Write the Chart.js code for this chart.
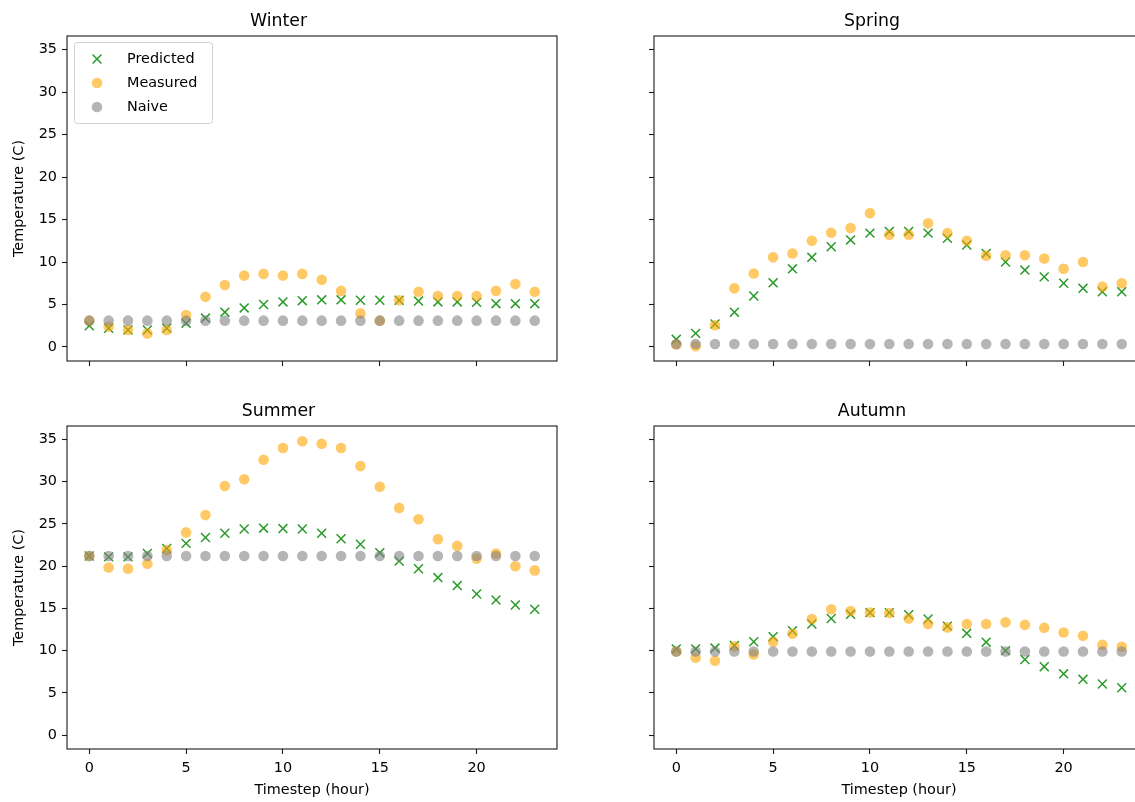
<!DOCTYPE html>
<html>
<head>
<meta charset="utf-8">
<script src="https://cdn.jsdelivr.net/npm/chart.js@4.4.1/dist/chart.umd.min.js"></script>
<style>
html, body { margin:0; padding:0; overflow:hidden; background:#fff; width:1135px; height:802px; }
canvas { position:absolute; }
</style>
</head>
<body>
<canvas id="winter" width="567" height="380" style="left:0px;top:0px"></canvas>
<canvas id="spring" width="554" height="380" style="left:600px;top:0px"></canvas>
<canvas id="summer" width="567" height="412" style="left:0px;top:390px"></canvas>
<canvas id="autumn" width="554" height="412" style="left:600px;top:390px"></canvas>
<script>
// ---------- data ----------
const hours = [0,1,2,3,4,5,6,7,8,9,10,11,12,13,14,15,16,17,18,19,20,21,22,23];
const xTickValues = [0,5,10,15,20];
const yTickValues = [0,5,10,15,20,25,30,35];
const seriesLabels = ['Predicted','Measured','Naive'];

const winterPredicted = [2.5,2.2,2.0,2.0,2.2,2.8,3.4,4.1,4.6,5.0,5.3,5.45,5.55,5.55,5.5,5.5,5.5,5.4,5.3,5.3,5.25,5.1,5.1,5.1];
const winterMeasured  = [3.1,2.4,2.0,1.6,2.0,3.75,5.9,7.3,8.4,8.6,8.4,8.6,7.9,6.6,3.95,3.1,5.5,6.5,6.0,6.0,6.0,6.6,7.4,6.5];
const winterNaive     = [3.1,3.1,3.1,3.1,3.1,3.1,3.1,3.1,3.1,3.1,3.1,3.1,3.1,3.1,3.1,3.1,3.1,3.1,3.1,3.1,3.1,3.1,3.1,3.1];

const springPredicted = [0.9,1.6,2.7,4.1,6.0,7.55,9.2,10.55,11.8,12.6,13.4,13.6,13.6,13.4,12.8,12.0,11.0,10.0,9.05,8.25,7.5,6.9,6.5,6.5];
const springMeasured  = [0.3,0.1,2.55,6.9,8.65,10.55,11.0,12.5,13.45,14.0,15.75,13.2,13.2,14.55,13.4,12.5,10.75,10.8,10.8,10.4,9.2,10.0,7.1,7.5];
const springNaive     = [0.35,0.35,0.35,0.35,0.35,0.35,0.35,0.35,0.35,0.35,0.35,0.35,0.35,0.35,0.35,0.35,0.35,0.35,0.35,0.35,0.35,0.35,0.35,0.35];

const summerPredicted = [21.2,21.1,21.1,21.5,22.1,22.7,23.4,23.9,24.4,24.5,24.45,24.4,23.9,23.25,22.6,21.6,20.6,19.7,18.65,17.7,16.7,16.0,15.4,14.9];
const summerMeasured  = [21.2,19.85,19.7,20.3,21.9,24.0,26.05,29.5,30.3,32.6,34.0,34.8,34.5,34.0,31.85,29.4,26.9,25.55,23.2,22.4,20.9,21.5,20.0,19.5];
const summerNaive     = [21.2,21.2,21.2,21.2,21.2,21.2,21.2,21.2,21.2,21.2,21.2,21.2,21.2,21.2,21.2,21.2,21.2,21.2,21.2,21.2,21.2,21.2,21.2,21.2];

const autumnPredicted = [10.2,10.2,10.3,10.6,11.05,11.65,12.35,13.15,13.8,14.3,14.5,14.5,14.25,13.75,12.9,12.05,11.0,10.0,8.95,8.1,7.25,6.6,6.05,5.6];
const autumnMeasured  = [9.9,9.15,8.8,10.5,9.55,11.05,12.0,13.75,14.9,14.7,14.5,14.45,13.8,13.15,12.75,13.15,13.15,13.35,13.05,12.7,12.15,11.75,10.7,10.45];
const autumnNaive     = [9.9,9.9,9.9,9.9,9.9,9.9,9.9,9.9,9.9,9.9,9.9,9.9,9.9,9.9,9.9,9.9,9.9,9.9,9.9,9.9,9.9,9.9,9.9,9.9];

// ---------- styling / helpers ----------
const FONT = '"DejaVu Sans", "Liberation Sans", sans-serif';
const TICK_SIZE = 14.4;

const framePlugin = {
  id: 'frame',
  afterDraw(chart) {
    const {ctx, chartArea: a} = chart;
    ctx.save();
    ctx.strokeStyle = '#1a1a1a';
    ctx.lineWidth = 1.1;
    ctx.strokeRect(a.left, a.top, a.right - a.left, a.bottom - a.top);
    ctx.restore();
  }
};

const insideLegend = {
  id: 'insideLegend',
  afterDraw(chart, args, opts) {
    if (!opts || !opts.display) return;
    const {ctx, chartArea} = chart;
    const x = chartArea.left + 7, y = chartArea.top + 6, w = 138, h = 81;
    ctx.save();
    ctx.beginPath();
    if (ctx.roundRect) ctx.roundRect(x + 0.5, y + 0.5, w, h, 3); else ctx.rect(x + 0.5, y + 0.5, w, h);
    ctx.fillStyle = 'rgba(255,255,255,0.8)';
    ctx.fill();
    ctx.strokeStyle = '#d0d0d0';
    ctx.lineWidth = 1;
    ctx.stroke();
    chart.data.datasets.forEach((ds, i) => {
      const cy = y + 17 + i * 24;
      ctx.fillStyle = ds.backgroundColor;
      ctx.strokeStyle = ds.borderColor;
      ctx.lineWidth = ds.borderWidth || 0;
      Chart.helpers.drawPoint(ctx, {pointStyle: ds.pointStyle, radius: ds.pointRadius, borderWidth: ds.borderWidth || 0, rotation: 0}, x + 23, cy);
      ctx.fillStyle = '#000';
      ctx.font = TICK_SIZE + 'px ' + FONT;
      ctx.textBaseline = 'middle';
      ctx.textAlign = 'left';
      ctx.fillText(ds.label, x + 53, cy);
    });
    ctx.restore();
  }
};

function pts(vals) { return hours.map((h, i) => ({x: h, y: vals[i]})); }

function makeChart(id, title, pred, meas, naive, cfg) {
  const datasets = [
    {label: seriesLabels[0], data: pts(pred), order: 3, pointStyle: 'crossRot', pointRadius: 6.3,
     borderColor: '#2a9a2a', backgroundColor: '#2a9a2a', borderWidth: 1.5},
    {label: seriesLabels[1], data: pts(meas), order: 2, pointStyle: 'circle', pointRadius: 5.3,
     borderColor: 'rgba(0,0,0,0)', backgroundColor: 'rgba(255,165,0,0.6)', borderWidth: 0},
    {label: seriesLabels[2], data: pts(naive), order: 1, pointStyle: 'circle', pointRadius: 5.3,
     borderColor: 'rgba(0,0,0,0)', backgroundColor: 'rgba(128,128,128,0.58)', borderWidth: 0}
  ];
  return new Chart(document.getElementById(id), {
    type: 'scatter',
    data: {datasets},
    plugins: [framePlugin, insideLegend],
    options: {
      responsive: false,
      animation: false,
      events: [],
      layout: {autoPadding: false, padding: {left: 0, right: 10, top: 0, bottom: 0}},
      plugins: {
        legend: {display: false},
        tooltip: {enabled: false},
        title: {display: true, text: title, color: '#000',
                font: {family: FONT, size: 17.3, weight: 'normal'},
                padding: {top: 11, bottom: 4.24}},
        insideLegend: {display: !!cfg.legend}
      },
      scales: {
        x: {
          type: 'linear', min: -1.15, max: 24.15,
          afterBuildTicks: s => { s.ticks = xTickValues.map(v => ({value: v})); },
          afterFit: s => { s.height = cfg.xH; },
          grid: {drawOnChartArea: false, drawTicks: true, tickLength: 5, tickColor: '#1a1a1a', tickWidth: 1.1},
          border: {display: false},
          ticks: {display: cfg.xLabels, color: '#000', font: {family: FONT, size: TICK_SIZE}, padding: 6, maxRotation: 0, autoSkip: false},
          title: {display: cfg.xLabels, text: 'Timestep (hour)', color: '#000', font: {family: FONT, size: TICK_SIZE}, padding: {top: 0, bottom: 3.4}}
        },
        y: {
          type: 'linear', min: -1.65, max: 36.6,
          afterBuildTicks: s => { s.ticks = yTickValues.map(v => ({value: v})); },
          afterFit: s => { s.width = cfg.yW; },
          grid: {drawOnChartArea: false, drawTicks: true, tickLength: 5, tickColor: '#1a1a1a', tickWidth: 1.1},
          border: {display: false},
          ticks: {display: cfg.yLabels, color: '#000', font: {family: FONT, size: TICK_SIZE}, padding: 5, autoSkip: false},
          title: {display: cfg.yLabels, text: 'Temperature (C)', color: '#000', font: {family: FONT, size: TICK_SIZE}, padding: {top: 10.5, bottom: 0}}
        }
      }
    }
  });
}

makeChart('winter', 'Winter', winterPredicted, winterMeasured, winterNaive, {legend: true, xLabels: false, yLabels: true, xH: 19, yW: 67});
makeChart('spring', 'Spring', springPredicted, springMeasured, springNaive, {legend: false, xLabels: false, yLabels: false, xH: 19, yW: 54});
makeChart('summer', 'Summer', summerPredicted, summerMeasured, summerNaive, {legend: false, xLabels: true, yLabels: true, xH: 53, yW: 67});
makeChart('autumn', 'Autumn', autumnPredicted, autumnMeasured, autumnNaive, {legend: false, xLabels: true, yLabels: false, xH: 53, yW: 54});
</script>
</body>
</html>
